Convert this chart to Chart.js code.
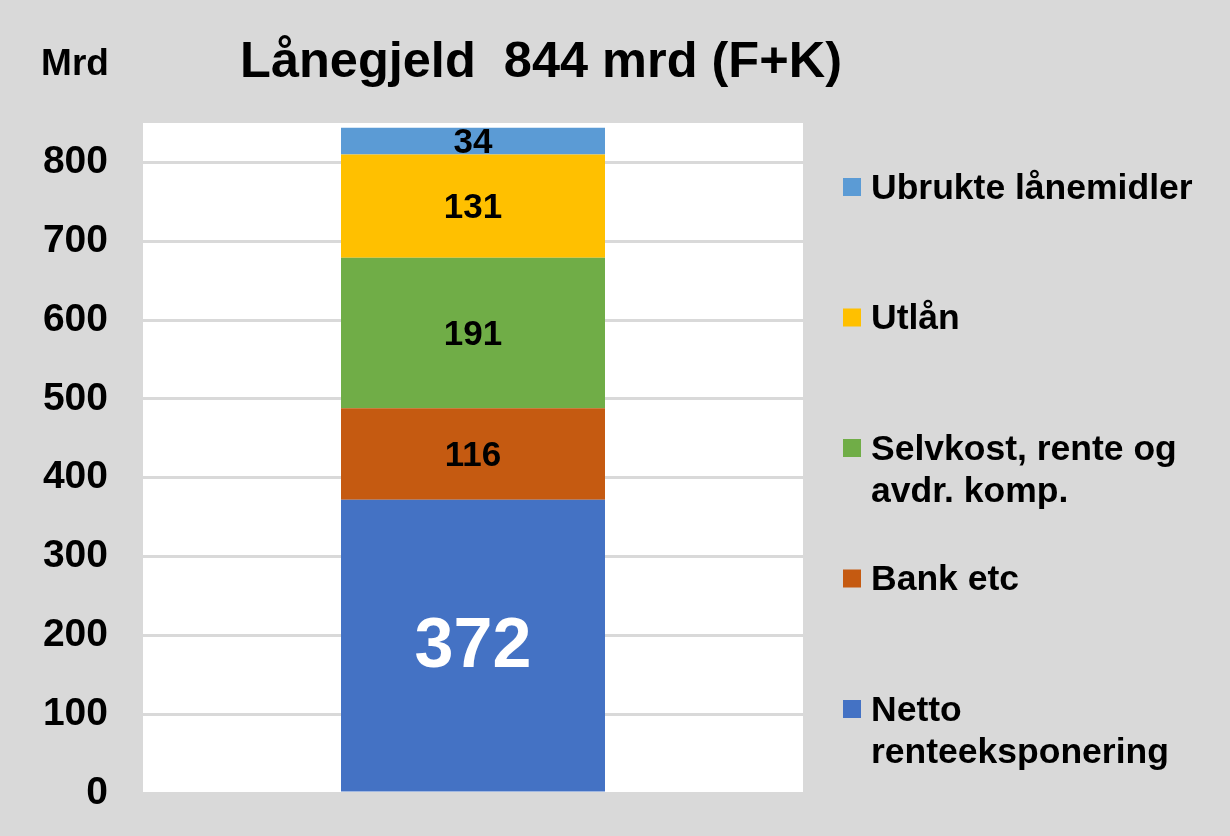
<!DOCTYPE html>
<html>
<head>
<meta charset="utf-8">
<script src="https://cdn.jsdelivr.net/npm/chart.js@4.4.1/dist/chart.umd.min.js"></script>
<style>
  html, body { margin: 0; padding: 0; background: #d9d9d9; }
  #wrap { width: 1230px; height: 836px; position: relative; }
</style>
</head>
<body>
<div id="wrap"><canvas id="c" width="1230" height="836"></canvas></div>
<script>
const categories = [''];
const seriesNames = [
  ['Netto', 'renteeksponering'],
  ['Bank etc'],
  ['Selvkost, rente og', 'avdr. komp.'],
  ['Utlån'],
  ['Ubrukte lånemidler']
];
const netto = [372];
const bank = [116];
const selvkost = [191];
const utlan = [131];
const ubrukte = [34];
const yTicks = [0, 100, 200, 300, 400, 500, 600, 700, 800];
const titleText = 'Lånegjeld  844 mrd (F+K)';
const unitText = 'Mrd';

const colors = ['#4472c4', '#c55a11', '#70ad47', '#ffc000', '#5b9bd5'];
const seriesValues = [netto, bank, selvkost, utlan, ubrukte];
const FONT = '"Liberation Sans", Arial, sans-serif';

const datasets = seriesValues.map((vals, i) => ({
  label: seriesNames[i].join(' '),
  lines: seriesNames[i],
  data: vals,
  backgroundColor: colors[i],
  borderWidth: 0,
  categoryPercentage: 1.0,
  barPercentage: 0.4
}));

const decor = {
  id: 'decor',
  beforeDraw(chart) {
    const { ctx, chartArea: a } = chart;
    ctx.save();
    ctx.fillStyle = '#ffffff';
    ctx.fillRect(a.left, a.top, a.right - a.left, a.bottom - a.top);
    ctx.restore();
  },
  afterDraw(chart) {
    const { ctx } = chart;
    ctx.save();
    // title
    ctx.fillStyle = '#000';
    ctx.textBaseline = 'alphabetic';
    ctx.textAlign = 'center';
    ctx.font = 'bold 50.5px ' + FONT;
    ctx.fillText(titleText, 541, 77);
    ctx.font = 'bold 37px ' + FONT;
    ctx.fillText(unitText, 75, 75);

    // data labels
    chart.data.datasets.forEach((ds, i) => {
      const meta = chart.getDatasetMeta(i);
      meta.data.forEach((bar, j) => {
        const y = (bar.y + bar.base) / 2;
        if (i === 0) {
          ctx.fillStyle = '#ffffff';
          ctx.font = 'bold 70px ' + FONT;
        } else {
          ctx.fillStyle = '#000000';
          ctx.font = 'bold 35px ' + FONT;
        }
        ctx.textAlign = 'center';
        ctx.textBaseline = 'middle';
        ctx.fillText(String(ds.data[j]), bar.x, y + 2);
      });
    });

    // legend (reversed order)
    const n = chart.data.datasets.length;
    const startY = 187, step = 130.5, lineH = 42;
    for (let k = 0; k < n; k++) {
      const idx = n - 1 - k;
      const ds = chart.data.datasets[idx];
      const cy = startY + k * step;
      ctx.fillStyle = ds.backgroundColor;
      ctx.fillRect(843, cy - 9, 18, 18);
      ctx.fillStyle = '#000';
      ctx.font = 'bold 35.5px ' + FONT;
      ctx.textAlign = 'left';
      ctx.textBaseline = 'middle';
      ds.lines.forEach((ln, li) => {
        ctx.fillText(ln, 871, cy + li * lineH + 2);
      });
    }
    ctx.restore();
  }
};

new Chart(document.getElementById('c'), {
  type: 'bar',
  data: { labels: categories, datasets },
  options: {
    responsive: false,
    animation: false,
    devicePixelRatio: 1,
    layout: { padding: { left: 0, right: 427, top: 123, bottom: 43 } },
    plugins: { legend: { display: false }, title: { display: false }, tooltip: { enabled: false } },
    scales: {
      x: { stacked: true, display: false },
      y: {
        stacked: true,
        min: 0,
        max: 850,
        border: { display: false },
        grid: { color: '#d9d9d9', lineWidth: 3, drawTicks: false },
        ticks: {
          stepSize: 100,
          padding: 35,
          color: '#000',
          font: { family: FONT, size: 39, weight: 'bold' }
        },
        afterBuildTicks(scale) {
          scale.ticks = yTicks.map(v => ({ value: v }));
        },
        afterFit(scale) {
          scale.width = 143;
          scale.paddingTop = 0;
          scale.paddingBottom = 0;
        }
      }
    }
  },
  plugins: [decor]
});
</script>
</body>
</html>
